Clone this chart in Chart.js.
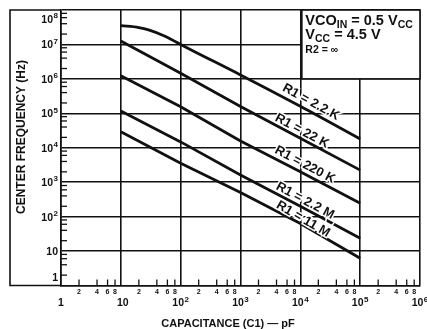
<!DOCTYPE html>
<html>
<head>
<meta charset="utf-8">
<script src="https://cdn.jsdelivr.net/npm/chart.js@4.4.1/dist/chart.umd.min.js"></script>
<style>
  html, body { margin: 0; padding: 0; background: #fff; }
  #wrap { width: 427px; height: 329px; }
</style>
</head>
<body>
<div id="wrap"><canvas id="c" width="427" height="329"></canvas></div>
<script>
// ---- data ----
const capDecades = [10, 100, 1000, 10000, 100000];          // pF
const cap2k2 = [10, 20, 30, 50, 70, 100, 1000, 10000, 100000];
const f_R1_2k2 = [3.5e7, 3.1e7, 2.6e7, 1.85e7, 1.4e7, 1.0e7, 1.3e6, 1.6e5, 1.8e4];
const f_R1_22k = [1.26e7, 1.45e6, 1.58e5, 1.9e4, 2.24e3];
const f_R1_220k = [1.23e6, 1.55e5, 1.58e4, 2.0e3, 245];
const f_R1_2M2 = [1.17e5, 1.48e4, 1.62e3, 200, 23.4];
const f_R1_11M = [2.9e4, 3.55e3, 500, 63, 6.2];
const seriesLabels = ['R1 = 2.2 K', 'R1 = 22 K', 'R1 = 220 K', 'R1 = 2.2 M', 'R1 = 11 M'];
const xDecades = [1, 10, 100, 1000, 10000, 100000, 1000000];
const yDecades = [1, 10, 100, 1000, 10000, 100000, 1000000, 10000000, 100000000];
const minorSteps = [2, 4, 6, 8];
const xTitle = 'CAPACITANCE (C1) — pF';
const yTitle = 'CENTER FREQUENCY (Hz)';

const INK = '#111';
function pts(xs, ys) { return xs.map((x, i) => ({ x: x, y: ys[i] })); }

const ds = (label, data, mono) => ({
  label, data, borderColor: INK, borderWidth: 2.8, pointRadius: 0,
  fill: false, cubicInterpolationMode: mono ? 'monotone' : 'default', tension: 0
});

const BOLD = '"Liberation Sans", Arial, sans-serif';

function drawPow(ctx, exp, cx, cy, align) {
  ctx.textBaseline = 'middle';
  const base = exp === 0 ? '1' : '10';
  const sup = exp >= 2 ? String(exp) : '';
  ctx.font = 'bold 10.5px ' + BOLD;
  const wb = ctx.measureText(base).width;
  ctx.font = 'bold 8px ' + BOLD;
  const ws = sup ? ctx.measureText(sup).width + 0.5 : 0;
  const total = wb + ws;
  let x0 = align === 'right' ? cx - total : cx - total / 2;
  ctx.textAlign = 'left';
  ctx.font = 'bold 10.5px ' + BOLD;
  ctx.fillText(base, x0, cy);
  if (sup) {
    ctx.font = 'bold 8px ' + BOLD;
    ctx.fillText(sup, x0 + wb + 0.5, cy - 4);
  }
}

function drawRuns(ctx, x, y, runs) {
  let cx = x;
  ctx.textAlign = 'left';
  ctx.textBaseline = 'alphabetic';
  for (const [t, s, dy] of runs) {
    ctx.font = 'bold ' + s + 'px ' + BOLD;
    ctx.fillText(t, cx, y + dy);
    cx += ctx.measureText(t).width;
  }
}

const decor = {
  id: 'decor',
  beforeDraw(chart) {
    const ctx = chart.ctx;
    ctx.save();
    ctx.fillStyle = '#fff';
    ctx.fillRect(0, 0, chart.width, chart.height);
    ctx.restore();
  },
  beforeDatasetsDraw(chart) {
    const { ctx, chartArea: a, scales: { x, y } } = chart;
    ctx.save();
    ctx.strokeStyle = INK;
    ctx.fillStyle = INK;
    ctx.lineWidth = 1.6;
    ctx.beginPath();
    ctx.moveTo(a.left, a.top);
    ctx.lineTo(10, a.top);
    ctx.lineTo(10, a.bottom);
    ctx.lineTo(a.left, a.bottom);
    ctx.stroke();
    ctx.lineWidth = 1.3;
    for (let d = 1; d < 1e6; d *= 10) {
      for (const m of minorSteps) {
        const px = x.getPixelForValue(d * m);
        ctx.beginPath();
        ctx.moveTo(px, a.bottom);
        ctx.lineTo(px, a.bottom - 6);
        ctx.stroke();
      }
    }
    for (let d = 1; d < 1e8; d *= 10) {
      for (const m of minorSteps) {
        const py = y.getPixelForValue(d * m);
        ctx.beginPath();
        ctx.moveTo(a.left, py);
        ctx.lineTo(a.left + 6, py);
        ctx.stroke();
      }
    }
    const bx0 = x.getPixelForValue(1e4) + 1.5, bx1 = a.right;
    const by0 = a.top, by1 = y.getPixelForValue(1e6);
    ctx.fillStyle = '#fff';
    ctx.fillRect(bx0, by0, bx1 - bx0, by1 - by0);
    ctx.lineWidth = 1.6;
    ctx.strokeRect(bx0, by0, bx1 - bx0, by1 - by0);
    ctx.restore();
  },
  afterDatasetsDraw(chart) {
    const { ctx, chartArea: a, scales: { x, y } } = chart;
    ctx.save();
    ctx.fillStyle = INK;

    const anchors = [311, 302, 305, 305, 303];
    const offs = [10, 8, 9.5, 8, 6];
    chart.data.datasets.forEach((d, i) => {
      const meta = chart.getDatasetMeta(i);
      const P = meta.data;
      const ax = anchors[i];
      let k = 0;
      while (k < P.length - 2 && P[k + 1].x < ax) k++;
      const p0 = P[k], p1 = P[k + 1];
      const t = (ax - p0.x) / (p1.x - p0.x);
      const ly = p0.y + t * (p1.y - p0.y);
      const ang = Math.atan2(p1.y - p0.y, p1.x - p0.x);
      ctx.save();
      ctx.translate(ax, ly - offs[i]);
      ctx.rotate(ang);
      ctx.font = 'bold 13px ' + BOLD;
      ctx.textAlign = 'center';
      ctx.textBaseline = 'middle';
      ctx.lineWidth = 3;
      ctx.strokeStyle = '#fff';
      ctx.strokeText(seriesLabels[i], 0, 0);
      ctx.fillText(seriesLabels[i], 0, 0);
      ctx.restore();
    });

    yDecades.forEach((v, i) => {
      let py = y.getPixelForValue(v) + 1;
      if (i === yDecades.length - 1) py = a.top + 10;
      if (i === 0) py = a.bottom - 7;
      drawPow(ctx, i, a.left - 3, py, 'right');
    });
    xDecades.forEach((v, i) => {
      const px = x.getPixelForValue(v) + (i === 1 ? 2 : 0);
      drawPow(ctx, i, px, a.bottom + 18, 'center');
    });
    ctx.font = 'bold 7px ' + BOLD;
    ctx.textAlign = 'center';
    ctx.textBaseline = 'middle';
    for (let d = 1; d < 1e6; d *= 10) {
      for (const m of minorSteps) {
        ctx.fillText(String(m), x.getPixelForValue(d * m), a.bottom + 7);
      }
    }
    ctx.font = 'bold 11px ' + BOLD;
    ctx.textAlign = 'center';
    ctx.textBaseline = 'alphabetic';
    ctx.fillText(xTitle, 228, 327);
    ctx.save();
    ctx.translate(25, 137);
    ctx.rotate(-Math.PI / 2);
    ctx.font = 'bold 12px ' + BOLD;
    ctx.textBaseline = 'alphabetic';
    ctx.fillText(yTitle, 0, 0);
    ctx.restore();

    const tx = x.getPixelForValue(1e4) + 5;
    drawRuns(ctx, tx, 25, [['VCO', 14.5, 0], ['IN', 10.5, 3], [' = 0.5 V', 14.5, 0], ['CC', 10.5, 3]]);
    drawRuns(ctx, tx, 39, [['V', 14.5, 0], ['CC', 10.5, 3], [' = 4.5 V', 14.5, 0]]);
    drawRuns(ctx, tx, 53, [['R2 = ∞', 10.5, 0]]);
    ctx.restore();
  }
};

new Chart(document.getElementById('c'), {
  type: 'line',
  data: {
    datasets: [
      ds(seriesLabels[0], pts(cap2k2, f_R1_2k2), true),
      ds(seriesLabels[1], pts(capDecades, f_R1_22k)),
      ds(seriesLabels[2], pts(capDecades, f_R1_220k)),
      ds(seriesLabels[3], pts(capDecades, f_R1_2M2)),
      ds(seriesLabels[4], pts(capDecades, f_R1_11M))
    ]
  },
  options: {
    responsive: false,
    devicePixelRatio: 1,
    animation: false,
    layout: { padding: { left: 61, right: 7, top: 10, bottom: 43.5 } },
    plugins: { legend: { display: false }, tooltip: { enabled: false } },
    scales: {
      x: {
        type: 'logarithmic', min: 1, max: 1e6,
        afterBuildTicks: s => { s.ticks = xDecades.map(v => ({ value: v, major: true })); },
        ticks: { display: false },
        grid: { color: INK, lineWidth: 1.6, drawTicks: false },
        border: { display: true, color: INK, width: 1.6 }
      },
      y: {
        type: 'logarithmic', min: 1, max: 1e8,
        afterBuildTicks: s => { s.ticks = yDecades.map(v => ({ value: v, major: true })); },
        ticks: { display: false },
        grid: { color: INK, lineWidth: 1.6, drawTicks: false },
        border: { display: true, color: INK, width: 1.6 }
      }
    }
  },
  plugins: [decor]
});
</script>
</body>
</html>
